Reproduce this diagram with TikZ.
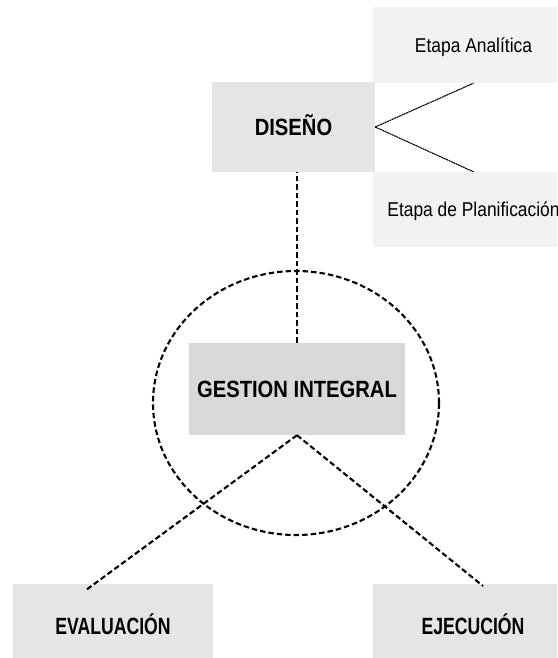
\documentclass[tikz,border=0pt]{standalone}
\usepackage{fontspec}
\setmainfont{Liberation Sans}
\newfontfamily\capsfont{Liberation Sans}[FakeStretch=0.86]
\newfontfamily\lowcapsfont{Liberation Sans}[FakeStretch=0.75]
\newfontfamily\etapafont{Liberation Sans}[FakeStretch=0.87]
\begin{document}
\begin{tikzpicture}[x=1pt,y=-1pt,
  box/.style={inner sep=0pt,text height=16.8pt,text depth=0pt,
    font=\capsfont\bfseries\fontsize{23.5}{27}\selectfont},
  lowbox/.style={box,fill=black!10,minimum width=200pt,minimum height=84pt,
    font=\lowcapsfont\bfseries\fontsize{23.5}{27}\selectfont},
  etapa/.style={inner sep=0pt,fill=black!5,minimum width=201pt,minimum height=76pt,
    text height=14.3pt,text depth=0pt,font=\etapafont\fontsize{20}{24}\selectfont},
  dline/.style={line width=2.1pt,dash pattern=on 5.5pt off 3pt},
  fineline/.style={line width=1.1pt,dash pattern=on 2pt off 0.6pt}]
\useasboundingbox (0,0) rectangle (557,658);
\clip (0,0) rectangle (557,658);
\path
(293.5,127) node[box,fill=black!10,minimum width=163pt,minimum height=90pt] (diseno) {DISEÑO}
(473.5,45)  node[etapa] (analitica) {Etapa Analítica}
(473.5,209.5) node[etapa,minimum height=75pt] (planif) {Etapa de Planificación}
(297,389)   node[box,fill=black!15,minimum width=216pt,minimum height=92pt] (gestion) {GESTION INTEGRAL}
(113,626)   node[lowbox] (evaluacion) {EVALUACIÓN}
(473,626)   node[lowbox] (ejecucion) {EJECUCIÓN};
\coordinate (evalend) at (86,590);
\coordinate (ejecend) at (483,586);
\draw[fineline] (diseno.east)--(analitica.south);
\draw[fineline] (diseno.east)--(planif.north);
\draw[dline] (gestion.north)--(gestion.north |- diseno.south);
\draw[dline] (296,403) ellipse[x radius=143pt,y radius=132pt];
\draw[dline] (gestion.south)--(evalend);
\draw[dline] (gestion.south)--(ejecend);
\end{tikzpicture}
\end{document}
